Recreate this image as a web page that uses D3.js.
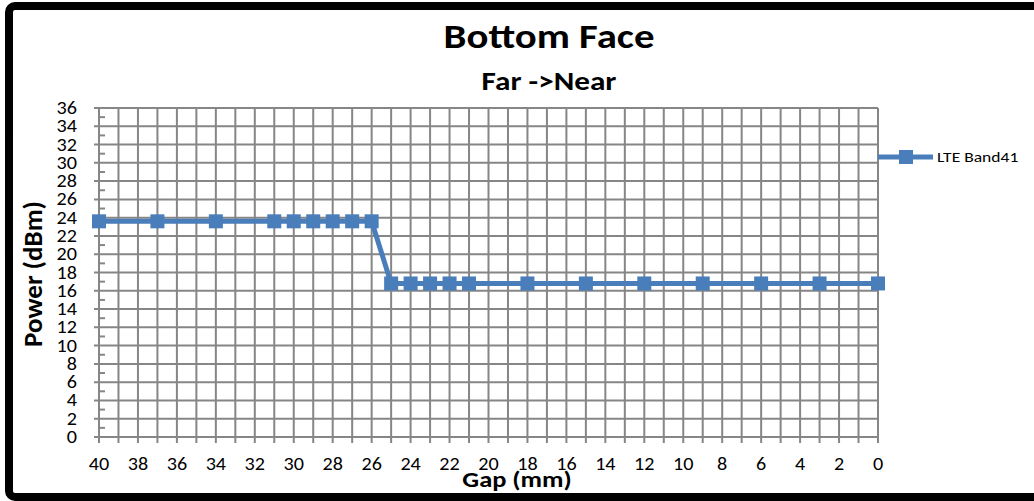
<!DOCTYPE html>
<html>
<head>
<meta charset="utf-8">
<script src="https://cdn.jsdelivr.net/npm/d3@7"></script>
<style>
    body { margin: 0; background: #fff; }
    text { font-family: Carlito, Calibri, "Liberation Sans", Arial, sans-serif; }
</style>
</head>
<body>
<svg id="chart" width="1034" height="501"></svg>
<script>
// data
const gaps = [40, 37, 34, 31, 30, 29, 28, 27, 26, 25, 24, 23, 22, 21, 18, 15, 12, 9, 6, 3, 0];
const power = [23.6, 23.6, 23.6, 23.6, 23.6, 23.6, 23.6, 23.6, 23.6,
    16.8, 16.8, 16.8, 16.8, 16.8, 16.8, 16.8, 16.8, 16.8, 16.8, 16.8, 16.8];
const xTicks = d3.range(40, -1, -2);
const yTicks = d3.range(0, 37, 2);
const seriesName = "LTE Band41";

const blue = "#4A7EBB";
const grid = "#868686";

const svg = d3.select("#chart");

// text in the picture is a bit wider than Calibri, so stretch it a little
function label(px, py, str, size, sx, anchor, bold) {
    return svg.append("text")
        .attr("transform", `translate(${px},${py}) scale(${sx},1)`)
        .attr("text-anchor", anchor)
        .attr("font-size", size + "px")
        .attr("font-weight", bold ? "bold" : "normal")
        .text(str);
}

// outer frame
svg.append("rect")
    .attr("x", 9).attr("y", 6)
    .attr("width", 1040).attr("height", 491)
    .attr("rx", 6)
    .attr("fill", "#fff")
    .attr("stroke", "#000")
    .attr("stroke-width", 8);

const x = d3.scaleLinear().domain([40, 0]).range([99, 878]);
const y = d3.scaleLinear().domain([0, 36]).range([437, 108]);

// vertical gridlines every 1 mm
svg.append("g")
    .selectAll("line")
    .data(d3.range(0, 41))
    .join("line")
    .attr("x1", d => x(d)).attr("x2", d => x(d))
    .attr("y1", y(36)).attr("y2", y(0) + 6)
    .attr("stroke", grid).attr("stroke-width", 2);

// horizontal gridlines every 2 dBm
svg.append("g")
    .selectAll("line")
    .data(yTicks)
    .join("line")
    .attr("x1", x(40) - 5).attr("x2", x(0))
    .attr("y1", d => y(d)).attr("y2", d => y(d))
    .attr("stroke", grid).attr("stroke-width", 2);

// minor ticks on y axis
svg.append("g")
    .selectAll("line")
    .data(d3.range(1, 36, 2))
    .join("line")
    .attr("x1", x(40)).attr("x2", x(40) + 6)
    .attr("y1", d => y(d)).attr("y2", d => y(d))
    .attr("stroke", grid).attr("stroke-width", 2);

// tick labels
yTicks.forEach(d => label(77, y(d) + 6, d, 18, 1.12, "end", false));
xTicks.forEach(d => label(x(d), 470, d, 18, 1.12, "middle", false));

// series
const pts = gaps.map((g, i) => [g, power[i]]);
svg.append("path")
    .datum(pts)
    .attr("fill", "none")
    .attr("stroke", blue)
    .attr("stroke-width", 5)
    .attr("stroke-linejoin", "round")
    .attr("d", d3.line().x(d => x(d[0])).y(d => y(d[1])));

svg.append("g")
    .selectAll("rect")
    .data(pts)
    .join("rect")
    .attr("x", d => x(d[0]) - 7)
    .attr("y", d => y(d[1]) - 7)
    .attr("width", 14).attr("height", 14)
    .attr("fill", blue);

// titles
label(549, 48, "Bottom Face", 34, 1.2, "middle", true);
label(549, 90, "Far ->Near", 26, 1.2, "middle", true);
label(517, 487, "Gap (mm)", 22, 1.2, "middle", true);

svg.append("text")
    .attr("transform", "translate(42,274) rotate(-90)")
    .attr("text-anchor", "middle")
    .attr("font-size", "27px").attr("font-weight", "bold")
    .text("Power (dBm)");

// legend
const lg = svg.append("g").attr("transform", "translate(878,157)");
lg.append("line")
    .attr("x1", 0).attr("x2", 55)
    .attr("stroke", blue).attr("stroke-width", 5);
lg.append("rect")
    .attr("x", 21).attr("y", -7)
    .attr("width", 14).attr("height", 14)
    .attr("fill", blue);
label(937, 162, seriesName, 15, 1.17, "start", false);
</script>
</body>
</html>
